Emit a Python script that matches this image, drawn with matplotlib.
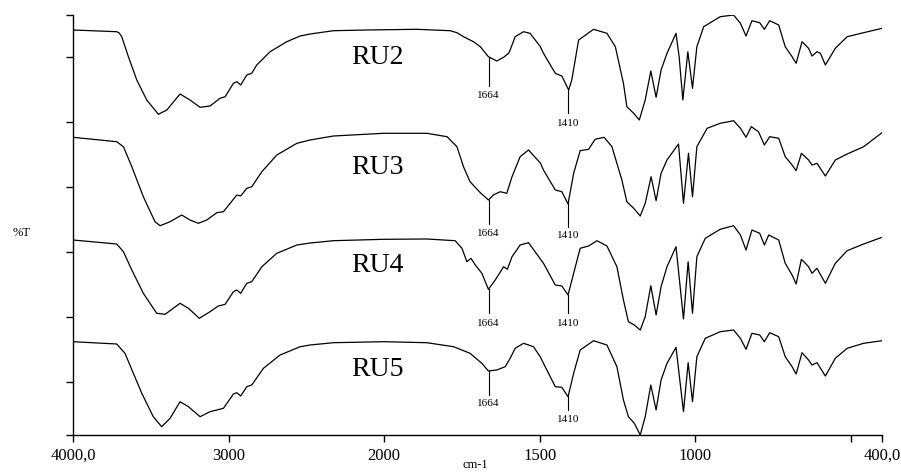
import numpy as np
import matplotlib
matplotlib.use('Agg')
import matplotlib.pyplot as plt

plt.rcParams['font.family'] = ['Liberation Serif', 'DejaVu Serif']

# Спектри ІЧ (хвильове число, см-1 ; пропускання, умовні одиниці зі зсувом)
ru2_wn = [4000, 3719, 3703, 3687, 3644, 3590, 3526, 3451, 3397, 3312, 3248, 3183, 3119, 3055, 3022,
          2969, 2947, 2922, 2883, 2851, 2819, 2733, 2626, 2540, 2476, 2326, 2111, 1895, 1788,
          1766, 1745, 1713, 1691, 1665, 1638, 1616, 1600, 1595, 1579, 1552, 1531, 1498, 1488, 1450, 1429,
          1407, 1397, 1375, 1327, 1284, 1257, 1231, 1220, 1198, 1180, 1161, 1143, 1126, 1110,
          1091, 1062, 1052, 1040, 1024, 1009, 995, 973, 920, 877, 855, 837, 818, 793, 778, 761,
          732, 711, 689, 676, 657, 636, 625, 609, 598, 582, 550, 512, 459, 400]
ru2_t = [405, 403.3, 402, 398.3, 378.3, 355, 335, 320.7, 325, 341, 335, 327.7, 329, 336.7, 338.3,
         351.7, 353.3, 350, 360, 361.7, 370, 383.3, 393.3, 399, 401, 404.3, 405, 405.7, 404.3,
         402.3, 398.3, 393.3, 388.3, 378.3, 374, 377.7, 381.7, 385, 398.3, 403.3, 401.7, 388.3, 381.7, 361.7, 359,
         345, 355, 395, 405.7, 401.7, 388.3, 351.7, 328.3, 321.7, 315, 335, 364, 337.7, 365,
         381.7, 401.7, 378.3, 335, 383.3, 346.7, 388.3, 408.3, 418.3, 420, 411.7, 399, 414.3, 412.3, 405.7, 414.3,
         410, 388.3, 378.3, 371.7, 393.3, 386.7, 379, 383.3, 381.7, 370, 386.7, 398.3, 402.3, 406.7]

ru3_wn = [4000, 3719, 3676, 3622, 3548, 3473, 3440, 3376, 3301, 3248, 3194, 3140, 3076, 3033,
          2947, 2922, 2883, 2851, 2786, 2690, 2561, 2476, 2326, 2004, 1863, 1798, 1766, 1745,
          1724, 1691, 1665, 1649, 1627, 1606, 1589, 1563, 1536, 1498, 1488, 1450, 1429, 1409,
          1391, 1370, 1343, 1322, 1293, 1268, 1236, 1220, 1198, 1177, 1161, 1142, 1126, 1110,
          1091, 1054, 1038, 1022, 1009, 995, 962, 920, 877, 855, 837, 820, 797, 778, 761, 732,
          711, 689, 676, 659, 636, 625, 609, 582, 550, 512, 459, 400]
ru3_t = [297.7, 293.3, 288.3, 268.3, 238.3, 213.3, 209.3, 213.3, 220, 215, 211.7, 215, 222.3, 223.3,
         240, 239, 246.7, 248.3, 263.3, 280, 291.7, 295, 299, 301.7, 301.7, 298.3, 288.3, 268.3,
         253.3, 242.3, 235, 240, 243.3, 241.7, 258.3, 278.3, 285, 272, 265, 245, 243.3, 231,
         261.7, 284.3, 285.7, 295.7, 297.7, 288.3, 255, 233.3, 226.7, 219, 231.7, 258.3, 234.3, 261.7,
         275, 291, 231.7, 281.7, 238.3, 288.3, 306.7, 311.7, 314.3, 306.7, 297.7, 308.3, 303.3, 290, 298.3, 296.7,
         278.3, 270, 264.3, 281.7, 275, 270, 271.7, 259, 275, 281, 288.3, 302.3]

ru4_wn = [4000, 3719, 3676, 3622, 3548, 3462, 3408, 3312, 3258, 3188, 3119, 3066, 3022, 2969,
          2947, 2922, 2883, 2851, 2786, 2690, 2561, 2476, 2326, 2004, 1863, 1772, 1750, 1734,
          1721, 1707, 1686, 1665, 1643, 1616, 1604, 1589, 1563, 1536, 1498, 1488, 1450, 1429,
          1409, 1391, 1370, 1343, 1316, 1284, 1252, 1231, 1215, 1196, 1177, 1161, 1143, 1126,
          1110, 1091, 1062, 1038, 1023, 1009, 995, 968, 920, 877, 855, 837, 818, 793, 778, 764,
          732, 711, 689, 676, 659, 636, 625, 609, 582, 550, 512, 459, 400]
ru4_t = [195, 191, 183.3, 165, 141.7, 121.7, 120.7, 131.7, 126.7, 116.7, 123.3, 129, 130.7, 143.3,
         145, 141.7, 151.7, 153.3, 168.3, 181.7, 190, 192, 194.3, 195.7, 196, 194.3, 186.7, 173.3,
         176.7, 170, 161.7, 145.7, 155, 168.3, 165.7, 178.3, 190, 192.3, 176, 171.7, 150, 149,
         140, 161.7, 186.7, 189, 194.3, 189, 168.3, 135, 113.3, 110, 105, 118.3, 149.3, 120,
         148.3, 168.3, 188.3, 116, 173.3, 121.7, 178.3, 196.7, 205.7, 209.3, 200, 185, 205, 201.7, 190, 200,
         195, 171.7, 160, 151, 175.7, 168.3, 161.7, 166.7, 151.7, 171.7, 184.3, 191, 197.7]

ru5_wn = [4000, 3719, 3666, 3612, 3558, 3484, 3430, 3376, 3312, 3258, 3183, 3119, 3033, 2969,
          2947, 2922, 2883, 2851, 2776, 2669, 2540, 2476, 2326, 2004, 1863, 1777, 1724, 1686,
          1665, 1638, 1611, 1595, 1579, 1552, 1520, 1498, 1488, 1450, 1429, 1409, 1391, 1370,
          1327, 1284, 1252, 1231, 1215, 1196, 1177, 1161, 1143, 1126, 1110, 1091, 1062, 1038,
          1023, 1009, 995, 968, 920, 877, 855, 837, 818, 793, 778, 761, 732, 711, 689, 676,
          657, 636, 625, 609, 582, 550, 512, 459, 400]
ru5_t = [93.3, 91, 81.7, 61.7, 41.7, 18.3, 8.3, 16.7, 33.3, 28.3, 18.3, 23.3, 26.7, 41,
         42.3, 39, 48.3, 50, 66.7, 80, 88.3, 90, 92.3, 93.3, 92.3, 88.3, 81.7, 71.7,
         64, 65, 68.3, 76.7, 86.7, 91.7, 88.3, 78, 71.7, 48.3, 47.7, 38.3, 61.7, 85,
         94.3, 90, 68.3, 35, 18.3, 11.7, 0, 18.3, 50, 25, 55, 71.7, 87.7, 23.3,
         72.3, 33.3, 78.3, 96.7, 103.3, 105, 96.7, 85.7, 101.7, 100, 93.3, 102.3, 98.3, 78.3, 68.3, 61,
         82.3, 75, 70, 72.3, 59, 76.7, 86.7, 91.7, 94.3]

names = ['RU2', 'RU3', 'RU4', 'RU5']
name_y = [378, 267, 169, 66]
peaks = [1664, 1410]
# нижній кінець позначки піку та центр підпису для кожного спектра
peak_bottom = [[349, 322], [211, 208], [122, 122], [40, 25]]
peak_label_y = [[340, 312], [201, 200], [112, 112], [31, 16]]

spectra = [(ru2_wn, ru2_t), (ru3_wn, ru3_t), (ru4_wn, ru4_t), (ru5_wn, ru5_t)]

xticks = [4000, 3000, 2000, 1500, 1000, 500, 400]
xtick_labels = ['4000,0', '3000', '2000', '1500', '1000', '', '400,0']
yticks = [0, 53.3, 118.3, 183.3, 248.3, 313.3, 378.3, 420]


# Шкала з розривом масштабу на 2000 см-1
def fwd(w):
    w = np.asarray(w, dtype=float)
    return np.where(w >= 2000, 2000 + (w - 2000) * 0.5, w)


def inv(u):
    u = np.asarray(u, dtype=float)
    return np.where(u >= 2000, 2000 + (u - 2000) * 2.0, u)


fig = plt.figure(figsize=(9.01, 4.75), dpi=100)
ax = fig.add_axes([73 / 901, 40 / 475, 809 / 901, 420 / 475])
ax.set_xscale('function', functions=(fwd, inv))

for (wn, t), name, ny, pb, pl in zip(spectra, names, name_y, peak_bottom, peak_label_y):
    ax.plot(wn, t, color='black', linewidth=0.9, solid_joinstyle='round')
    ax.text(2045, ny, name, fontsize=20, ha='center', va='center')
    for p, b, ly in zip(peaks, pb, pl):
        top = np.interp(p, wn[::-1], t[::-1])
        ax.plot([p, p], [top, b], color='black', linewidth=0.8)
        ax.text(p, ly, str(p), fontsize=8, ha='center', va='center')

ax.set_xlim(4000, 400)
ax.set_ylim(0, 420)
ax.set_xticks(xticks)
ax.set_xticklabels(xtick_labels, fontsize=12)
ax.set_yticks(yticks)
ax.set_yticklabels([])
ax.tick_params(axis='both', direction='out', length=5, width=1, color='black')
ax.tick_params(axis='x', pad=4)
ax.minorticks_off()
for s in ['top', 'right']:
    ax.spines[s].set_visible(False)
for s in ['left', 'bottom']:
    ax.spines[s].set_linewidth(1)

fig.text(22 / 901, 1 - 233 / 475, '%T', fontsize=9, ha='center', va='center')
fig.text(475 / 901, 1 - 465 / 475, 'cm-1', fontsize=9, ha='center', va='center')

fig.savefig('out.png', dpi=100)
